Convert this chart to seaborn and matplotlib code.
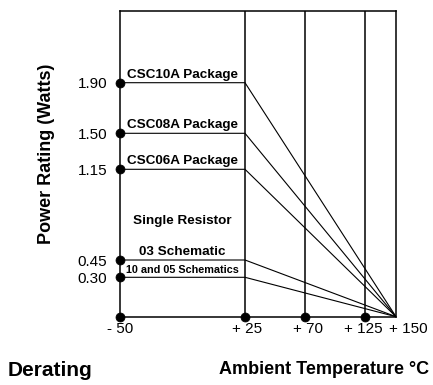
import numpy as np
import pandas as pd
import matplotlib.pyplot as plt
import matplotlib.transforms as mtransforms
import seaborn as sns

# data
packages = ['CSC10A Package', 'CSC08A Package', 'CSC06A Package',
            '03 Schematic', '10 and 05 Schematics']
watts = [1.90, 1.50, 1.15, 0.45, 0.30]
temp_ticks = [-50, 25, 70, 125, 150]
temp_labels = ['- 50', '+ 25', '+ 70', '+ 125', '+ 150']
start_temp = -50
full_power_temp = 25
zero_power_temp = 150
grid_temps = [25, 70, 125]

# each curve: flat up to +25, then down to zero at +150
rows = []
for p, w in zip(packages, watts):
    rows.append((p, start_temp, w))
    rows.append((p, full_power_temp, w))
    rows.append((p, zero_power_temp, 0.0))
df = pd.DataFrame(rows, columns=['package', 'temp', 'watts'])

dots = pd.DataFrame({
    'temp': [start_temp] * len(watts) + [start_temp] + grid_temps,
    'watts': watts + [0.0] * (1 + len(grid_temps)),
})

sns.set_style('white')
plt.rcParams['font.family'] = ['Liberation Sans', 'DejaVu Sans']
for k in ['text.color', 'axes.labelcolor', 'xtick.color', 'ytick.color']:
    plt.rcParams[k] = 'black'

fig = plt.figure(figsize=(4.33, 3.85), dpi=100)
ax = fig.add_axes([120 / 433, 1 - 316.7 / 385, 276 / 433, 305.7 / 385])

sns.lineplot(data=df, x='temp', y='watts', units='package', estimator=None,
             sort=False, color='black', linewidth=0.8, legend=False, ax=ax)
for t in grid_temps:
    ax.axvline(t, color='black', linewidth=1.1)
sns.scatterplot(data=dots, x='temp', y='watts', color='black', s=42,
                edgecolor='black', zorder=5, clip_on=False, ax=ax)

# the printed chart uses uneven spacing on both axes
x_knots = np.array([-50, 25, 70, 125, 150])
x_pos = np.array([0, 125, 185, 245, 276])
y_knots = np.array([0, 0.30, 0.45, 1.15, 1.50, 1.90, 2.47])
y_pos = np.array([0, 39.4, 56.7, 147.4, 183.4, 234, 305.7])
ax.set_xscale('function', functions=(lambda v: np.interp(v, x_knots, x_pos),
                                      lambda v: np.interp(v, x_pos, x_knots)))
ax.set_yscale('function', functions=(lambda v: np.interp(v, y_knots, y_pos),
                                      lambda v: np.interp(v, y_pos, y_knots)))
ax.set_xlim(-50, 150)
ax.set_ylim(0, 2.47)

for s in ax.spines.values():
    s.set_visible(True)
    s.set_color('black')
    s.set_linewidth(1.1)

ax.set_xticks(temp_ticks)
ax.set_xticklabels(temp_labels, fontsize=11)
ax.set_yticks(watts)
ax.set_yticklabels([f'{w:.2f}' for w in watts], fontsize=11)
ax.tick_params(axis='both', length=0)
ax.tick_params(axis='y', pad=9)
ax.tick_params(axis='x', pad=4)
# nudge the crowded right-hand tick labels like the print
nudges = [0, 2, 3, -2, 12]
for lab, dx in zip(ax.get_xticklabels(), nudges):
    lab.set_transform(lab.get_transform() +
                      mtransforms.ScaledTranslation(dx / 100, 0, fig.dpi_scale_trans))

# labels above the curves
mid = -12.5
for p, w in zip(packages, watts):
    size = 7.8 if p.startswith('10 and') else 9.7
    ax.annotate(p, xy=(mid, w), xytext=(0, 2), textcoords='offset pixels',
                ha='center', va='bottom', fontsize=size, fontweight='bold')
ax.annotate('Single Resistor', xy=(mid, 0.45), xytext=(0, 39),
            textcoords='offset pixels', ha='center', va='center',
            fontsize=9.7, fontweight='bold')

ax.set_ylabel('Power Rating (Watts)', fontsize=13, fontweight='bold')
ax.yaxis.set_label_coords((55 - 120) / 276, (316.7 - 153.5) / 305.7)
ax.set_xlabel('Ambient Temperature \u00b0C', fontsize=13, fontweight='bold')
ax.xaxis.set_label_coords((324 - 120) / 276, (316.7 - 370) / 305.7)
ax.xaxis.label.set_va('center')
fig.text(8 / 433, 1 - 370 / 385, 'Derating', fontsize=15,
         fontweight='bold', ha='left', va='center')

fig.savefig('out.png', dpi=100)
